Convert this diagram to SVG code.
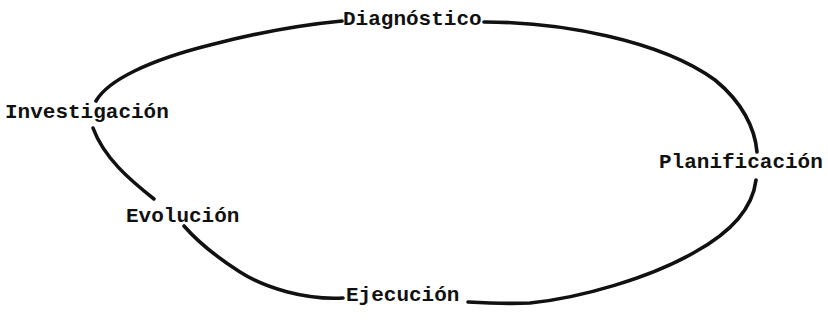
<svg xmlns="http://www.w3.org/2000/svg" width="828" height="326" viewBox="0 0 828 326">
<style>
.lbl{font-family:"Liberation Mono","Courier New",monospace;font-size:21px;font-weight:bold;fill:#111}
.cn{fill:none;stroke:#111;stroke-width:3.6;stroke-linecap:round;stroke-linejoin:round}
</style>
<rect width="828" height="326" fill="#fff"/>
<g id="connectors">
<path class="cn" d="M484,22 C560,22 660,40 715,80 C742,102 755,128 757,152"/>
<path class="cn" d="M756,180 C753,205 735,230 695,252 C650,278 580,298 530,303 C505,304 485,303 468,302"/>
<path class="cn" d="M343,298 C305,300 265,288 240,272 C218,258 198,242 184,226"/>
<path class="cn" d="M154,199 C130,180 104,158 93,128"/>
<path class="cn" d="M96,101 C108,80 150,60 210,45 C252,34 300,25 342,21"/>
</g>
<g id="diagnostico"><text class="lbl" x="343" y="25">Diagnóstico</text></g>
<g id="planificacion"><text class="lbl" x="659" y="168">Planificación</text></g>
<g id="ejecucion"><text class="lbl" x="346" y="301">Ejecución</text></g>
<g id="evolucion"><text class="lbl" x="126" y="222">Evolución</text></g>
<g id="investigacion"><text class="lbl" x="5" y="118">Investigación</text></g>
</svg>
